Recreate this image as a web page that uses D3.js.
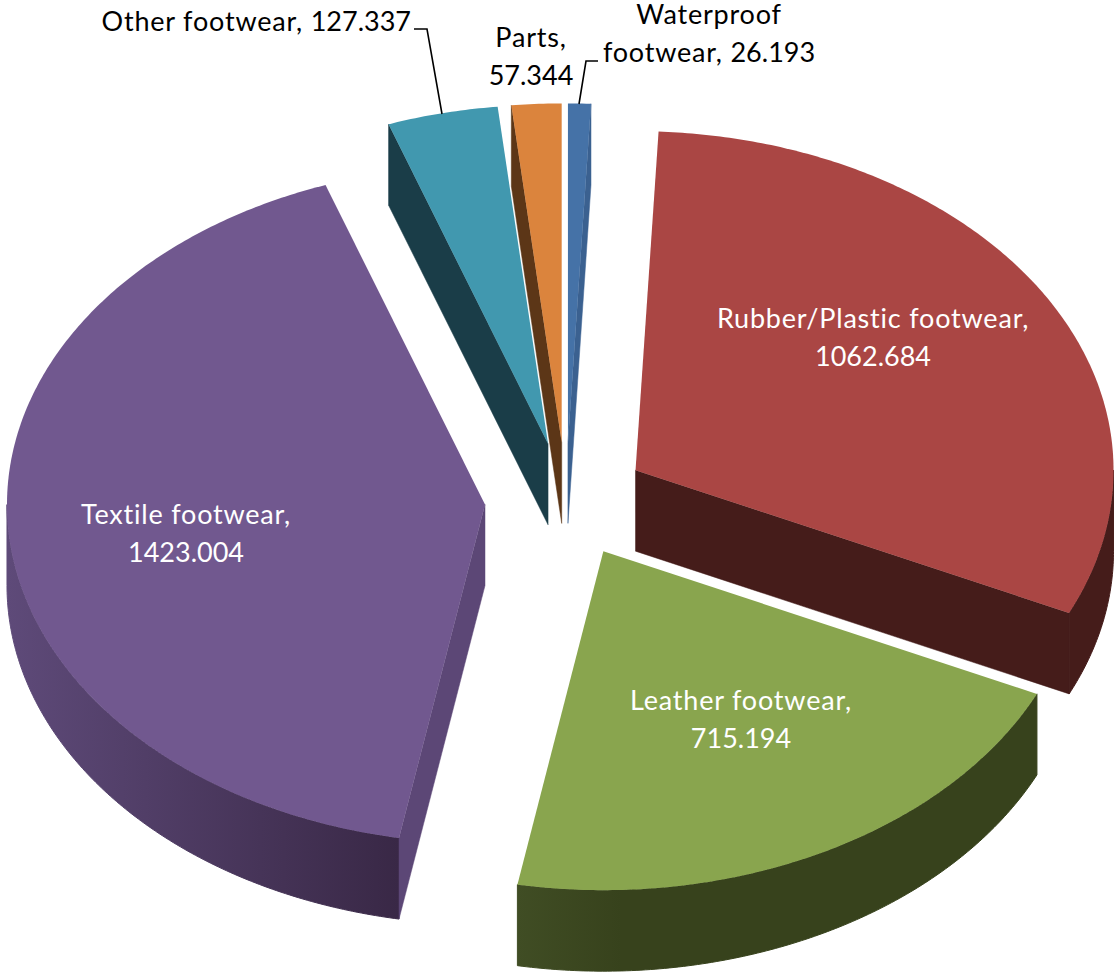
<!DOCTYPE html>
<html>
<head>
<meta charset="utf-8">
<script src="https://cdn.jsdelivr.net/npm/d3@7"></script>
<style>
  html, body { margin: 0; padding: 0; background: #fff; }
  text { font-family: Lato, "Open Sans", sans-serif; }
</style>
</head>
<body>
<script>
// Data, clockwise from the top of the pie
const categories = ["Waterproof footwear", "Rubber/Plastic footwear", "Leather footwear", "Textile footwear", "Other footwear", "Parts"];
const values = [26.193, 1062.684, 715.194, 1423.004, 127.337, 57.344];

// Colours per slice: top face, cut face, and the outer wall gradient (left, right)
const topColors = ["#4572a7", "#aa4644", "#89a54e", "#71588f", "#4198af", "#db843d"];
const faceColors = ["#3b6190", "#451c1a", "#37421c", "#5c4776", "#1a3d48", "#5c3617"];
const wallLeft = ["#3b6190", "#451c1a", "#404d24", "#5e4a79", "#1a3d48", "#5c3617"];
const wallRight = ["#3b6190", "#451c1a", "#37421c", "#392846", "#1a3d48", "#5c3617"];

// Where each label goes
const labelX = [709, 873, 741, 186, 411, 531];
const labelY = [24, 328, 710, 524, 31, 47];
const labelAnchor = ["middle", "middle", "middle", "middle", "end", "middle"];
const labelFill = ["#000", "#fff", "#fff", "#fff", "#000", "#000"];
const labelSize = 27;
const lineGap = 38;

const width = 1114;
const height = 972;
const explode = 0.17;
const depth = 81;

const svg = d3.select("body").append("svg")
  .attr("width", width)
  .attr("height", height)
  .style("display", "block");

// Tilted pie: unit circle to an ellipse on the page
const x = d3.scaleLinear().domain([-1, 1]).range([566 - 478, 566 + 478]);
const y = d3.scaleLinear().domain([-1, 1]).range([500 + 339, 500 - 339]);

const pie = d3.pie().value(d => d).sort(null);
const slices = pie(values);

const line = d3.line();

// Point on a slice: angle clockwise from the top, radius 0..1, drop = pixels downwards
function punto(d, angle, r, drop) {
  const mid = (d.startAngle + d.endAngle) / 2;
  const ux = explode * Math.sin(mid) + r * Math.sin(angle);
  const uy = explode * Math.cos(mid) + r * Math.cos(angle);
  return [x(ux), y(uy) + drop];
}

function rim(d, a0, a1, drop) {
  const n = Math.max(2, Math.ceil((a1 - a0) / 0.01));
  return d3.range(n + 1).map(i => punto(d, a0 + (a1 - a0) * i / n, 1, drop));
}

const defs = svg.append("defs");
slices.forEach((d, i) => {
  const g = defs.append("linearGradient").attr("id", "wall" + i);
  g.append("stop").attr("offset", "0%").attr("stop-color", wallLeft[i]);
  g.append("stop").attr("offset", i === 2 ? "20%" : "100%").attr("stop-color", wallRight[i]);
});

// Back slices first so the nearer ones paint over them
const order = [4, 5, 0, 1, 3, 2];

order.forEach(i => {
  const d = slices[i];
  const g = svg.append("g");
  const a0 = d.startAngle;
  const a1 = d.endAngle;

  // outer wall, front half of the ellipse only
  const w0 = Math.max(a0, Math.PI / 2);
  const w1 = Math.min(a1, 3 * Math.PI / 2);
  if (w1 > w0) {
    const pts = rim(d, w0, w1, 0).concat(rim(d, w0, w1, depth).reverse());
    g.append("path")
      .attr("d", line(pts) + "Z")
      .attr("fill", "url(#wall" + i + ")")
      .attr("stroke", "url(#wall" + i + ")")
      .attr("stroke-width", 1);
  }

  // cut faces, only the ones turned towards the viewer
  [a0, a1].forEach((a, k) => {
    const visible = k === 0 ? Math.sin(a) < -1e-6 : Math.sin(a) > 1e-6;
    if (!visible) return;
    g.append("path")
      .attr("d", line([punto(d, a, 0, 0), punto(d, a, 1, 0), punto(d, a, 1, depth), punto(d, a, 0, depth)]) + "Z")
      .attr("fill", faceColors[i])
      .attr("stroke", faceColors[i])
      .attr("stroke-width", 0.5);
  });

  // top face
  g.append("path")
    .attr("d", line([punto(d, a0, 0, 0)].concat(rim(d, a0, a1, 0))) + "Z")
    .attr("fill", topColors[i]);
});

// Leader lines of the two outside labels
const leaders = [
  [[414, 29], [427, 29], [442, 114]],
  [[598, 61], [586, 61], [579, 104]]
];
svg.selectAll("path.leader")
  .data(leaders)
  .join("path")
  .attr("class", "leader")
  .attr("d", d => line(d))
  .attr("fill", "none")
  .attr("stroke", "#000")
  .attr("stroke-width", 1.6);

// Labels: each line is [words, number], words get a little tracking to match the original width
const fmt = d3.format(".3f");
function lineas(i) {
  const v = fmt(values[i]);
  if (i === 0) return [["Waterproof", ""], ["footwear, ", v]];
  if (i === 4) return [[categories[i] + ", ", v]];
  return [[categories[i] + ",", ""], ["", v]];
}

categories.forEach((c, i) => {
  const t = svg.append("text")
    .attr("text-anchor", labelAnchor[i])
    .attr("fill", labelFill[i])
    .attr("font-size", labelSize);
  lineas(i).forEach((s, k) => {
    const first = t.append("tspan")
      .attr("x", labelX[i])
      .attr("y", labelY[i] + k * lineGap);
    if (s[0]) {
      first.attr("letter-spacing", 0.8).text(s[0]);
      if (s[1]) t.append("tspan").text(s[1]);
    } else {
      first.text(s[1]);
    }
  });
});
</script>
</body>
</html>
